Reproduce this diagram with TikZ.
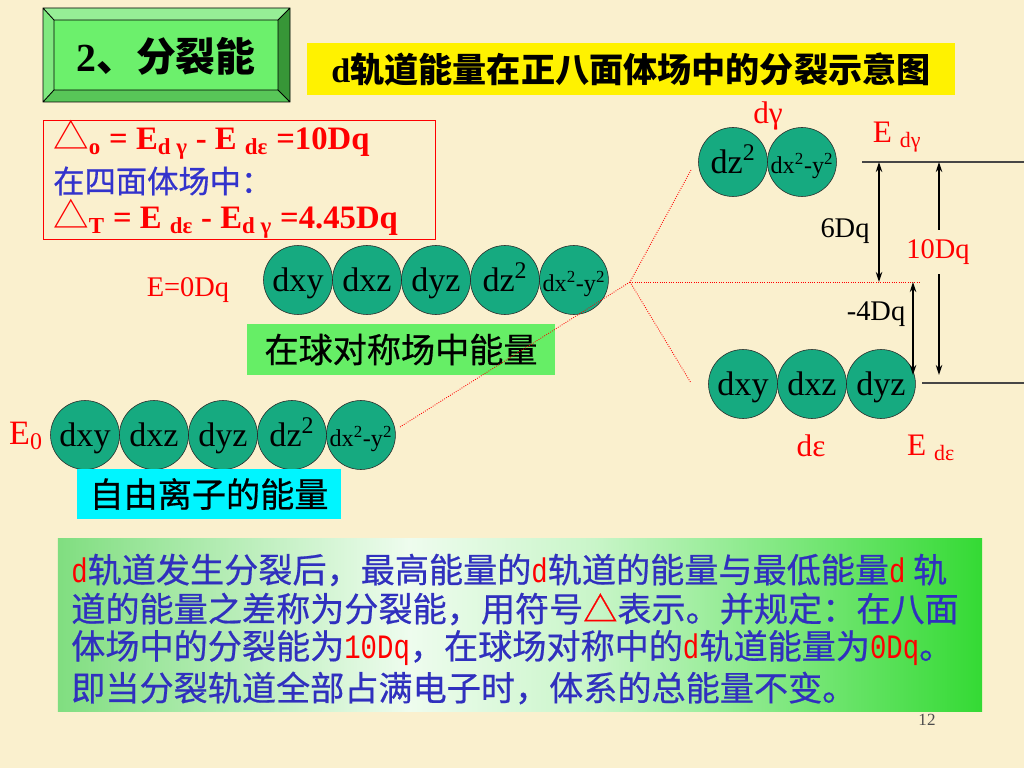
\documentclass[tikz,border=0pt]{standalone}
\usepackage{fontspec}
\setmainfont{Liberation Serif}
\newfontfamily\cjk{Noto Sans CJK SC}
\newfontfamily\cjkhei[FakeBold=0.6]{Noto Sans CJK SC}
\newfontfamily\narrowlat[FakeStretch=0.8]{Liberation Mono}
\usepackage{tikz}
\usetikzlibrary{arrows.meta,positioning,calc}
\definecolor{slidebg}{RGB}{250,240,206}
\definecolor{orbgreen}{RGB}{22,170,128}
\definecolor{boxgreen}{RGB}{102,238,102}
\definecolor{boxcyan}{RGB}{0,245,255}
\definecolor{formblue}{RGB}{51,51,204}
\definecolor{textblue}{RGB}{48,48,190}
\definecolor{lvlgray}{RGB}{70,70,70}
\definecolor{bevtop}{RGB}{150,238,150}
\definecolor{bevleft}{RGB}{128,232,128}
\definecolor{bevright}{RGB}{55,150,55}
\definecolor{bevbottom}{RGB}{88,198,88}
\definecolor{bevface}{RGB}{108,240,108}
\definecolor{noteleft}{RGB}{128,222,128}
\definecolor{notemid}{RGB}{238,252,238}
\definecolor{noteright}{RGB}{52,218,52}
\pgfdeclarehorizontalshading{notebg}{100bp}{color(0bp)=(noteleft); color(25bp)=(noteleft);
	color(44bp)=(notemid); color(54bp)=(notemid!80!noteright); color(75bp)=(noteright);
	color(100bp)=(noteright)}
\newcommand{\fsz}[1]{\fontsize{#1}{#1}\selectfont}
\newcommand{\redlat}[1]{{\color{red}\narrowlat #1}}
\newcommand{\tri}{{\cjk\mdseries\fsz{25}△}}
\tikzset{
	orb/.style={circle, draw=black!85, fill=orbgreen, minimum size=48.5pt,
		inner sep=0pt, outer sep=0pt, text height=18pt, text depth=2.5pt, font=\fsz{24}},
	orb small/.style={orb, font=\fsz{17}},
	lab/.style={inner sep=0pt, font=\fsz{20}},
	cjkbox/.style={inner sep=0pt, font={\cjkhei\fsz{24}}},
	formula/.style={anchor=west, inner sep=0pt, text=red, font={\fsz{23}\bfseries}},
	levelline/.style={draw=lvlgray, line width=1pt},
	dimarrow/.style={arrows={Stealth[length=7pt,width=4.5pt]-Stealth[length=7pt,width=4.5pt]},
		line width=0.9pt},
	splitline/.style={red, densely dotted, line width=0.6pt},
	bodyline/.style={anchor=west, inner sep=0pt, text=textblue, font={\cjkhei\fsz{24}}}
}
\begin{document}
\begin{tikzpicture}[x=0.703125pt, y=-0.703125pt]
  \useasboundingbox (0,0) rectangle (1024,768);
  \fill[slidebg] (0,0) rectangle (1024,768);

  % title plate
  \fill[bevtop] (43,8) -- (290,8) -- (278,20) -- (54,20) -- cycle;
  \fill[bevleft] (43,8) -- (54,20) -- (54,90) -- (43,102) -- cycle;
  \fill[bevright] (290,8) -- (290,102) -- (278,90) -- (278,20) -- cycle;
  \fill[bevbottom] (43,102) -- (290,102) -- (278,90) -- (54,90) -- cycle;
  \fill[bevface] (54,20) rectangle (278,90);
  \draw[line width=0.6pt] (43,8) rectangle (290,102) (54,20) rectangle (278,90)
  	(43,8) -- (54,20) (290,8) -- (278,20) (43,102) -- (54,90) (290,102) -- (278,90);
  \node[font={\fsz{28}\bfseries}] (title) at (166,56) {2{\cjk 、分裂能}};

  \node[fill=yellow, minimum width=455.6pt, minimum height=36.6pt, inner sep=0pt,
  	font={\fsz{24}\bfseries}] (ytitle) at (631,69) {d{\cjk 轨道能量在正八面体场中的分裂示意图}};

  % formula box
  \node[draw=red, line width=0.7pt, minimum width=276.3pt, minimum height=83pt] (fbox) at (239.5,180) {};
  \node[formula] (f1) at (53,140) {\tri\textsubscript{o} = E\textsubscript{d γ} - E \textsubscript{dε} =10Dq};
  \node[anchor=west, inner sep=0pt, text=formblue, font={\cjkhei\fsz{22}}] (f2) at (53,181) {在四面体场中：};
  \node[formula] (f3) at (53,219) {\tri\textsubscript{T} = E \textsubscript{dε} - E\textsubscript{d γ} =4.45Dq};

  % spherical field
  \node[lab, red] (ezero) at (188,290) {E=0Dq};
  \node[orb] (m1) at (298,280) {dxy};
  \node[orb, right=0pt of m1] (m2) {dxz};
  \node[orb, right=0pt of m2] (m3) {dyz};
  \node[orb, right=0pt of m3] (m4) {dz\textsuperscript{2}};
  \node[orb small, right=0pt of m4] (m5) {dx\textsuperscript{2}-y\textsuperscript{2}};
  \node[fill=boxgreen, minimum width=216.6pt, minimum height=35.9pt, cjkbox] (sphere) at (401,349.5) {在球对称场中能量};

  % free ion
  \node[lab, red, font=\fsz{24}] (efree) at (26,436) {E\textsubscript{0}};
  \node[orb] (b1) at (85,435) {dxy};
  \node[orb, right=0pt of b1] (b2) {dxz};
  \node[orb, right=0pt of b2] (b3) {dyz};
  \node[orb, right=0pt of b3] (b4) {dz\textsuperscript{2}};
  \node[orb small, right=0pt of b4] (b5) {dx\textsuperscript{2}-y\textsuperscript{2}};
  \node[fill=boxcyan, minimum width=185.6pt, minimum height=35.2pt, cjkbox] (free) at (209,494) {自由离子的能量};

  % octahedral field
  \node[orb] (g1) at (733,162) {dz\textsuperscript{2}};
  \node[orb small, right=0pt of g1] (g2) {dx\textsuperscript{2}-y\textsuperscript{2}};
  \node[orb] (t1) at (743,384) {dxy};
  \node[orb, right=0pt of t1] (t2) {dxz};
  \node[orb, right=0pt of t2] (t3) {dyz};

  \node[lab, red, font=\fsz{22}] (dgam) at (768,116) {dγ};
  \node[lab, red, font=\fsz{22}] (edgam) at (897,137) {E \textsubscript{dγ}};
  \node[lab, red, font=\fsz{22}] (deps) at (811,446) {dε};
  \node[lab, red, font=\fsz{22}] (edeps) at (931,448) {E \textsubscript{dε}};

  \coordinate (zero) at (630,282);
  \coordinate (zend) at (920,282);
  \coordinate (gsplit) at (691,170);
  \coordinate (esplit) at (691,383);
  \coordinate (free0) at (400,427);
  \draw[splitline] (free0) -- (zero);
  \draw[splitline] (zero) -- (zend);
  \draw[splitline] (gsplit) -- (zero) -- (esplit);

  \coordinate (gtop) at (862,162);
  \coordinate (gright) at (1024,162);
  \coordinate (ebot) at (922,383);
  \coordinate (eright) at (1024,383);
  \draw[levelline] (gtop) -- (gright);
  \draw[levelline] (ebot) -- (eright);

  \coordinate (sixa) at (879,162);
  \coordinate (sixb) at (879,282);
  \coordinate (foura) at (913,282);
  \coordinate (fourb) at (913,375);
  \coordinate (tena) at (939,162);
  \coordinate (tenb) at (939,375);
  \draw[dimarrow] (sixa) -- (sixb);
  \draw[dimarrow] (foura) -- (fourb);
  \draw[dimarrow] (tena) -- (tenb);
  \node[lab] (six) at (845,231) {6Dq};
  \node[lab] (mfour) at (876,314) {-4Dq};
  \node[lab, red, fill=slidebg, minimum height=31.6pt] (ten) at (938,252) {10Dq};

  % note
  \node[minimum width=649.7pt, minimum height=122.3pt, shading=notebg] (note) at (520,625) {};
  \node[bodyline] (l1) at (71,570) {\redlat{d}轨道发生分裂后，最高能量的\redlat{d}轨道的能量与最低能量\redlat{d} 轨};
  \node[bodyline] (l2) at (71,609) {道的能量之差称为分裂能，用符号{\color{red}△}表示。并规定：在八面};
  \node[bodyline] (l3) at (71,648) {体场中的分裂能为\redlat{10Dq}，在球场对称中的\redlat{d}轨道能量为\redlat{0Dq}。};
  \node[bodyline] (l4) at (71,688) {即当分裂轨道全部占满电子时，体系的总能量不变。};

  \node[lab, font=\fsz{12}, text=black!70] (pnum) at (927,720) {12};
\end{tikzpicture}
\end{document}
